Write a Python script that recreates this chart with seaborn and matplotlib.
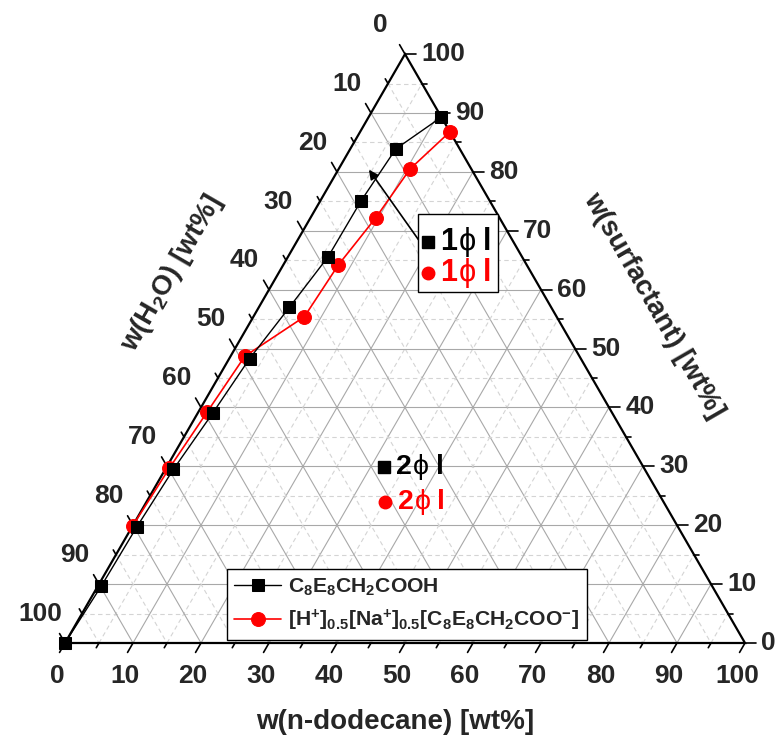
import numpy as np
import pandas as pd
import matplotlib
matplotlib.use("Agg")
import matplotlib.pyplot as plt
import seaborn as sns

# Composition data [wt%]: n-dodecane and surfactant (water = remainder)
acid_dodecane = [10.7, 6.7, 6.0, 5.9, 4.5, 3.0, 2.2, 1.2, 0.7, 0.5, 0.0]
acid_surfactant = [89.3, 83.9, 75.1, 65.6, 57.0, 48.3, 39.0, 29.5, 19.7, 9.7, 0.0]

salt_dodecane = [13.2, 10.5, 9.6, 8.1, 7.5, 2.1, 1.3, 0.5, 0.0]
salt_surfactant = [86.8, 80.5, 72.2, 64.2, 55.4, 48.7, 39.3, 29.7, 19.9]

ticks = list(range(0, 101, 10))
tick_labels = [str(t) for t in ticks]

series_names = [r"$\mathbf{C_8E_8CH_2COOH}$",
                r"$\mathbf{[H^{+}]_{0.5}[Na^{+}]_{0.5}[C_8E_8CH_2COO^{-}]}$"]

sns.set_theme(style="white")
plt.rcParams["font.family"] = ["Liberation Sans", "DejaVu Sans"]
plt.rcParams["font.weight"] = "bold"
plt.rcParams["mathtext.fontset"] = "custom"
plt.rcParams["mathtext.rm"] = "Liberation Sans:bold"
plt.rcParams["mathtext.bf"] = "Liberation Sans:bold"
plt.rcParams["mathtext.it"] = "Liberation Sans:bold"

H = np.sqrt(3) / 2


def proj(d, s):
    d = np.asarray(d, float)
    s = np.asarray(s, float)
    return d + s / 2, s * H


fig = plt.figure(figsize=(7.76, 7.36), dpi=100)
ax = fig.add_axes([0, 0, 1, 1])
ax.set_xlim(-65 / 6.8, (776 - 65) / 6.8)
ax.set_ylim((643 - 736) / 6.8, 643 / 6.8)
ax.axis("off")

# grid inside the triangle
for v in range(5, 100, 5):
    major = v % 10 == 0
    kw = dict(color="#a8a8a8", lw=0.8, ls="-", zorder=1) if major else \
        dict(color="#d4d4d4", lw=0.8, ls=(0, (4, 3)), zorder=1)
    # constant dodecane
    x0, y0 = proj(v, 0)
    x1, y1 = proj(v, 100 - v)
    ax.plot([x0, x1], [y0, y1], **kw)
    # constant surfactant
    x0, y0 = proj(0, v)
    x1, y1 = proj(100 - v, v)
    ax.plot([x0, x1], [y0, y1], **kw)
    # constant water
    x0, y0 = proj(0, 100 - v)
    x1, y1 = proj(100 - v, 0)
    ax.plot([x0, x1], [y0, y1], **kw)

# triangle frame
tx, ty = proj([0, 100, 0, 0], [0, 0, 100, 0])
ax.plot(tx, ty, color="black", lw=1.6, zorder=3, solid_joinstyle="miter")

# ticks and tick labels
dirs = {"bottom": (-0.5, -H), "right": (1.0, 0.0), "left": (-0.5, H)}
for v in range(0, 101, 5):
    L = 1.6 if v % 10 == 0 else 0.8
    # bottom: n-dodecane
    x, y = proj(v, 0)
    dx, dy = dirs["bottom"]
    ax.plot([x, x + L * dx], [y, y + L * dy], color="black", lw=1.2, zorder=3)
    # right: surfactant
    x, y = proj(100 - v, v)
    dx, dy = dirs["right"]
    ax.plot([x, x + L * dx], [y, y + L * dy], color="black", lw=1.2, zorder=3)
    # left: water
    x, y = proj(0, 100 - v)
    dx, dy = dirs["left"]
    ax.plot([x, x + L * dx], [y, y + L * dy], color="black", lw=1.2, zorder=3)

fs_tick = 19
for t, lab in zip(ticks, tick_labels):
    x, y = proj(t, 0)
    ax.text(x - 1.2, y - 4.9, lab, ha="center", va="center", fontsize=fs_tick,
            fontweight="bold")
    x, y = proj(100 - t, t)
    ax.text(x + 2.4, y, lab, ha="left", va="center", fontsize=fs_tick,
            fontweight="bold")
    x, y = proj(0, 100 - t)
    ax.text(x - 3.6, y + 4.3, lab, ha="center", va="center", fontsize=fs_tick,
            fontweight="bold")

# axis titles
fs_title = 20
ax.text(48.5, -11.6, "w(n-dodecane) [wt%]", ha="center", va="center",
        fontsize=fs_title, fontweight="bold")
ax.text(15.8, 54.3, r"w(H$_\mathbf{2}$O) [wt%]", ha="center", va="center",
        fontsize=fs_title, fontweight="bold", rotation=60, rotation_mode="anchor")
ax.text(86.5, 49.6, "w(surfactant) [wt%]", ha="center", va="center",
        fontsize=fs_title, fontweight="bold", rotation=-60, rotation_mode="anchor")

# data series
ax_x, ax_y = proj(acid_dodecane, acid_surfactant)
sa_x, sa_y = proj(salt_dodecane, salt_surfactant)
df_acid = pd.DataFrame({"x": ax_x, "y": ax_y})
df_salt = pd.DataFrame({"x": sa_x, "y": sa_y})

sns.lineplot(data=df_salt, x="x", y="y", sort=False, estimator=None, ax=ax,
             color="red", lw=1.2, marker="o", markersize=10,
             markeredgecolor="red", markerfacecolor="red", zorder=4,
             label=series_names[1])
sns.lineplot(data=df_acid, x="x", y="y", sort=False, estimator=None, ax=ax,
             color="black", lw=1.0, marker="s", markersize=9,
             markeredgecolor="black", markerfacecolor="black", zorder=5,
             label=series_names[0])

# one-phase region annotation
ax.annotate("", xy=(44.7, 69.6), xytext=(52.2, 59.0),
            arrowprops=dict(arrowstyle="-|>", color="black", lw=1.2,
                            mutation_scale=14, shrinkA=0, shrinkB=0),
            zorder=6)
box = plt.Rectangle((51.9, 51.6), 11.8, 11.5, fill=True, facecolor="white",
                    edgecolor="black", lw=1.0, zorder=6)
ax.add_patch(box)


def phase_label(x, y, num, color, marker, fs, offs):
    ax.plot([x], [y], marker=marker, color=color,
            markersize=8 if marker == "s" else 9, linestyle="none", zorder=7)
    parts = [(num, "bold"), ("\u03d5", "normal"), ("l", "bold")]
    for (txt, wt), off in zip(parts, offs):
        ax.annotate(txt, xy=(x, y), xytext=(off, 0), textcoords="offset points",
                    ha="left", va="center", fontsize=fs, fontweight=wt,
                    color=color, zorder=7)


phase_label(53.4, 59.0, "1", "black", "s", 22, (9.0, 21.8, 39.5))
phase_label(53.4, 54.4, "1", "red", "o", 22, (9.0, 21.8, 39.5))
phase_label(46.9, 25.9, "2", "black", "s", 20.5, (8.8, 21.2, 37.2))
phase_label(47.1, 20.7, "2", "red", "o", 20.5, (8.8, 21.2, 37.2))

# legend
handles, labels = ax.get_legend_handles_labels()
order = [1, 0]
leg = ax.legend([handles[i] for i in order], [labels[i] for i in order],
                loc="lower left", bbox_to_anchor=(0.2925, 0.1304),
                borderaxespad=0, frameon=True, fancybox=False,
                edgecolor="black", framealpha=1, fontsize=15.2,
                handlelength=2.2, handletextpad=0.35, borderpad=0.35,
                labelspacing=0.45)
leg.get_frame().set_linewidth(1.0)
leg.set_zorder(8)

fig.savefig("out.png", dpi=100)
